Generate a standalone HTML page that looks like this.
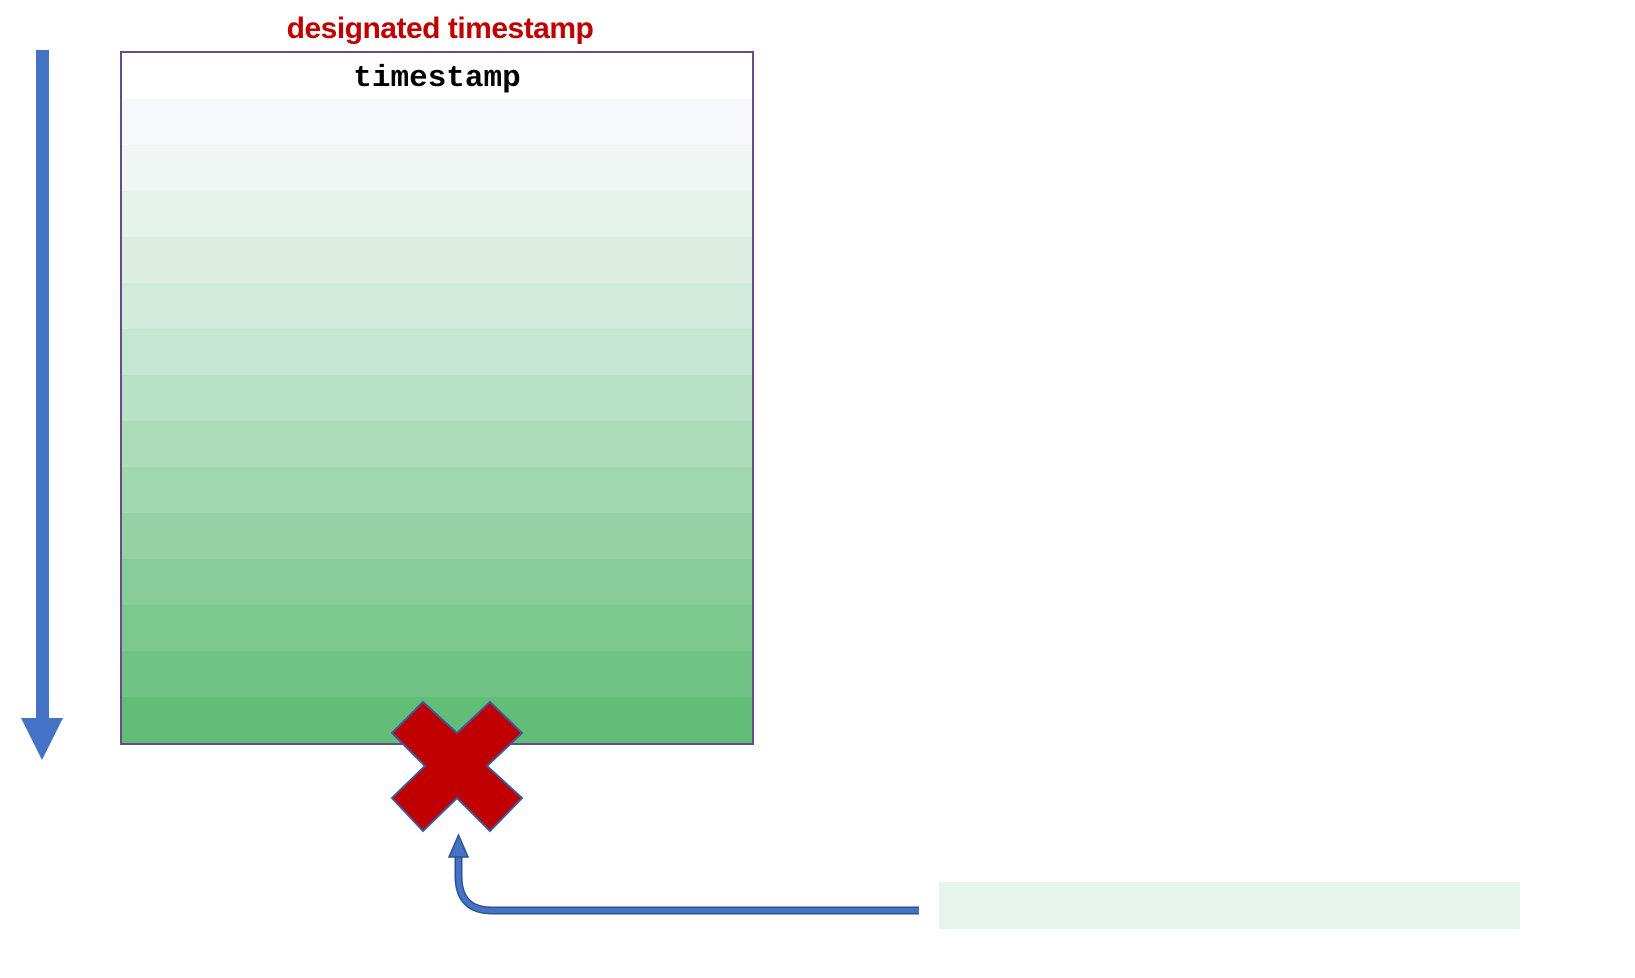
<!DOCTYPE html>
<html><head><meta charset="utf-8"><style>
html,body{margin:0;padding:0;background:#fff;width:1635px;height:978px;overflow:hidden;position:relative}
.t{position:absolute;font-family:"Liberation Sans",sans-serif;font-weight:bold;color:#c00000;font-size:30px;left:0;width:880px;text-align:center;top:12px;letter-spacing:-0.5px}
.box{position:absolute;left:120px;top:51px;width:630px;height:690px;border:2px solid #6a4a8a;overflow:hidden}
.band{height:46px;width:100%}
.ts{position:absolute;top:61px;left:120px;width:634px;text-align:center;font-family:"Liberation Mono",monospace;font-weight:bold;font-size:31px;color:#000}
.lb{position:absolute;left:939px;top:882px;width:581px;height:47px;background:#e7f4ee}
</style></head><body>
<div class="t">designated timestamp</div>
<div class="box">
<div class="band" style="background:#ffffff"></div>
<div class="band" style="background:#f8f9fd"></div>
<div class="band" style="background:#eff6f3"></div>
<div class="band" style="background:#e5f3ea"></div>
<div class="band" style="background:#dbeee1"></div>
<div class="band" style="background:#d0ebdb"></div>
<div class="band" style="background:#c5e6d0"></div>
<div class="band" style="background:#b8e1c6"></div>
<div class="band" style="background:#acdcb8"></div>
<div class="band" style="background:#a0d7ae"></div>
<div class="band" style="background:#94d2a3"></div>
<div class="band" style="background:#88cc99"></div>
<div class="band" style="background:#7cc88f"></div>
<div class="band" style="background:#6fc385"></div>
<div class="band" style="background:#62bd78;height:60px"></div>
</div>
<div class="ts">timestamp</div>
<div class="lb"></div>
<svg width="1635" height="978" style="position:absolute;left:0;top:0">
<rect x="36" y="50" width="13" height="670" fill="#4472c4"/>
<polygon points="21,718 63,718 42,760" fill="#4472c4"/>
<polygon points="423,702 457,733 490,702 522,733 487,766 522,798 490,831 457,798 423,831 392,798 425,766 392,733" fill="#c00000" stroke="#3c5a9a" stroke-width="2"/>
<path d="M919,910.5 L492,910.5 Q458.5,910.5 458.5,876 L458.5,856" fill="none" stroke="#2f528f" stroke-width="8"/>
<path d="M919,910.5 L492,910.5 Q458.5,910.5 458.5,876 L458.5,856" fill="none" stroke="#4472c4" stroke-width="5"/>
<polygon points="449,857 468,857 458.5,835" fill="#4472c4" stroke="#2f528f" stroke-width="1.5"/>
</svg>
</body></html>
